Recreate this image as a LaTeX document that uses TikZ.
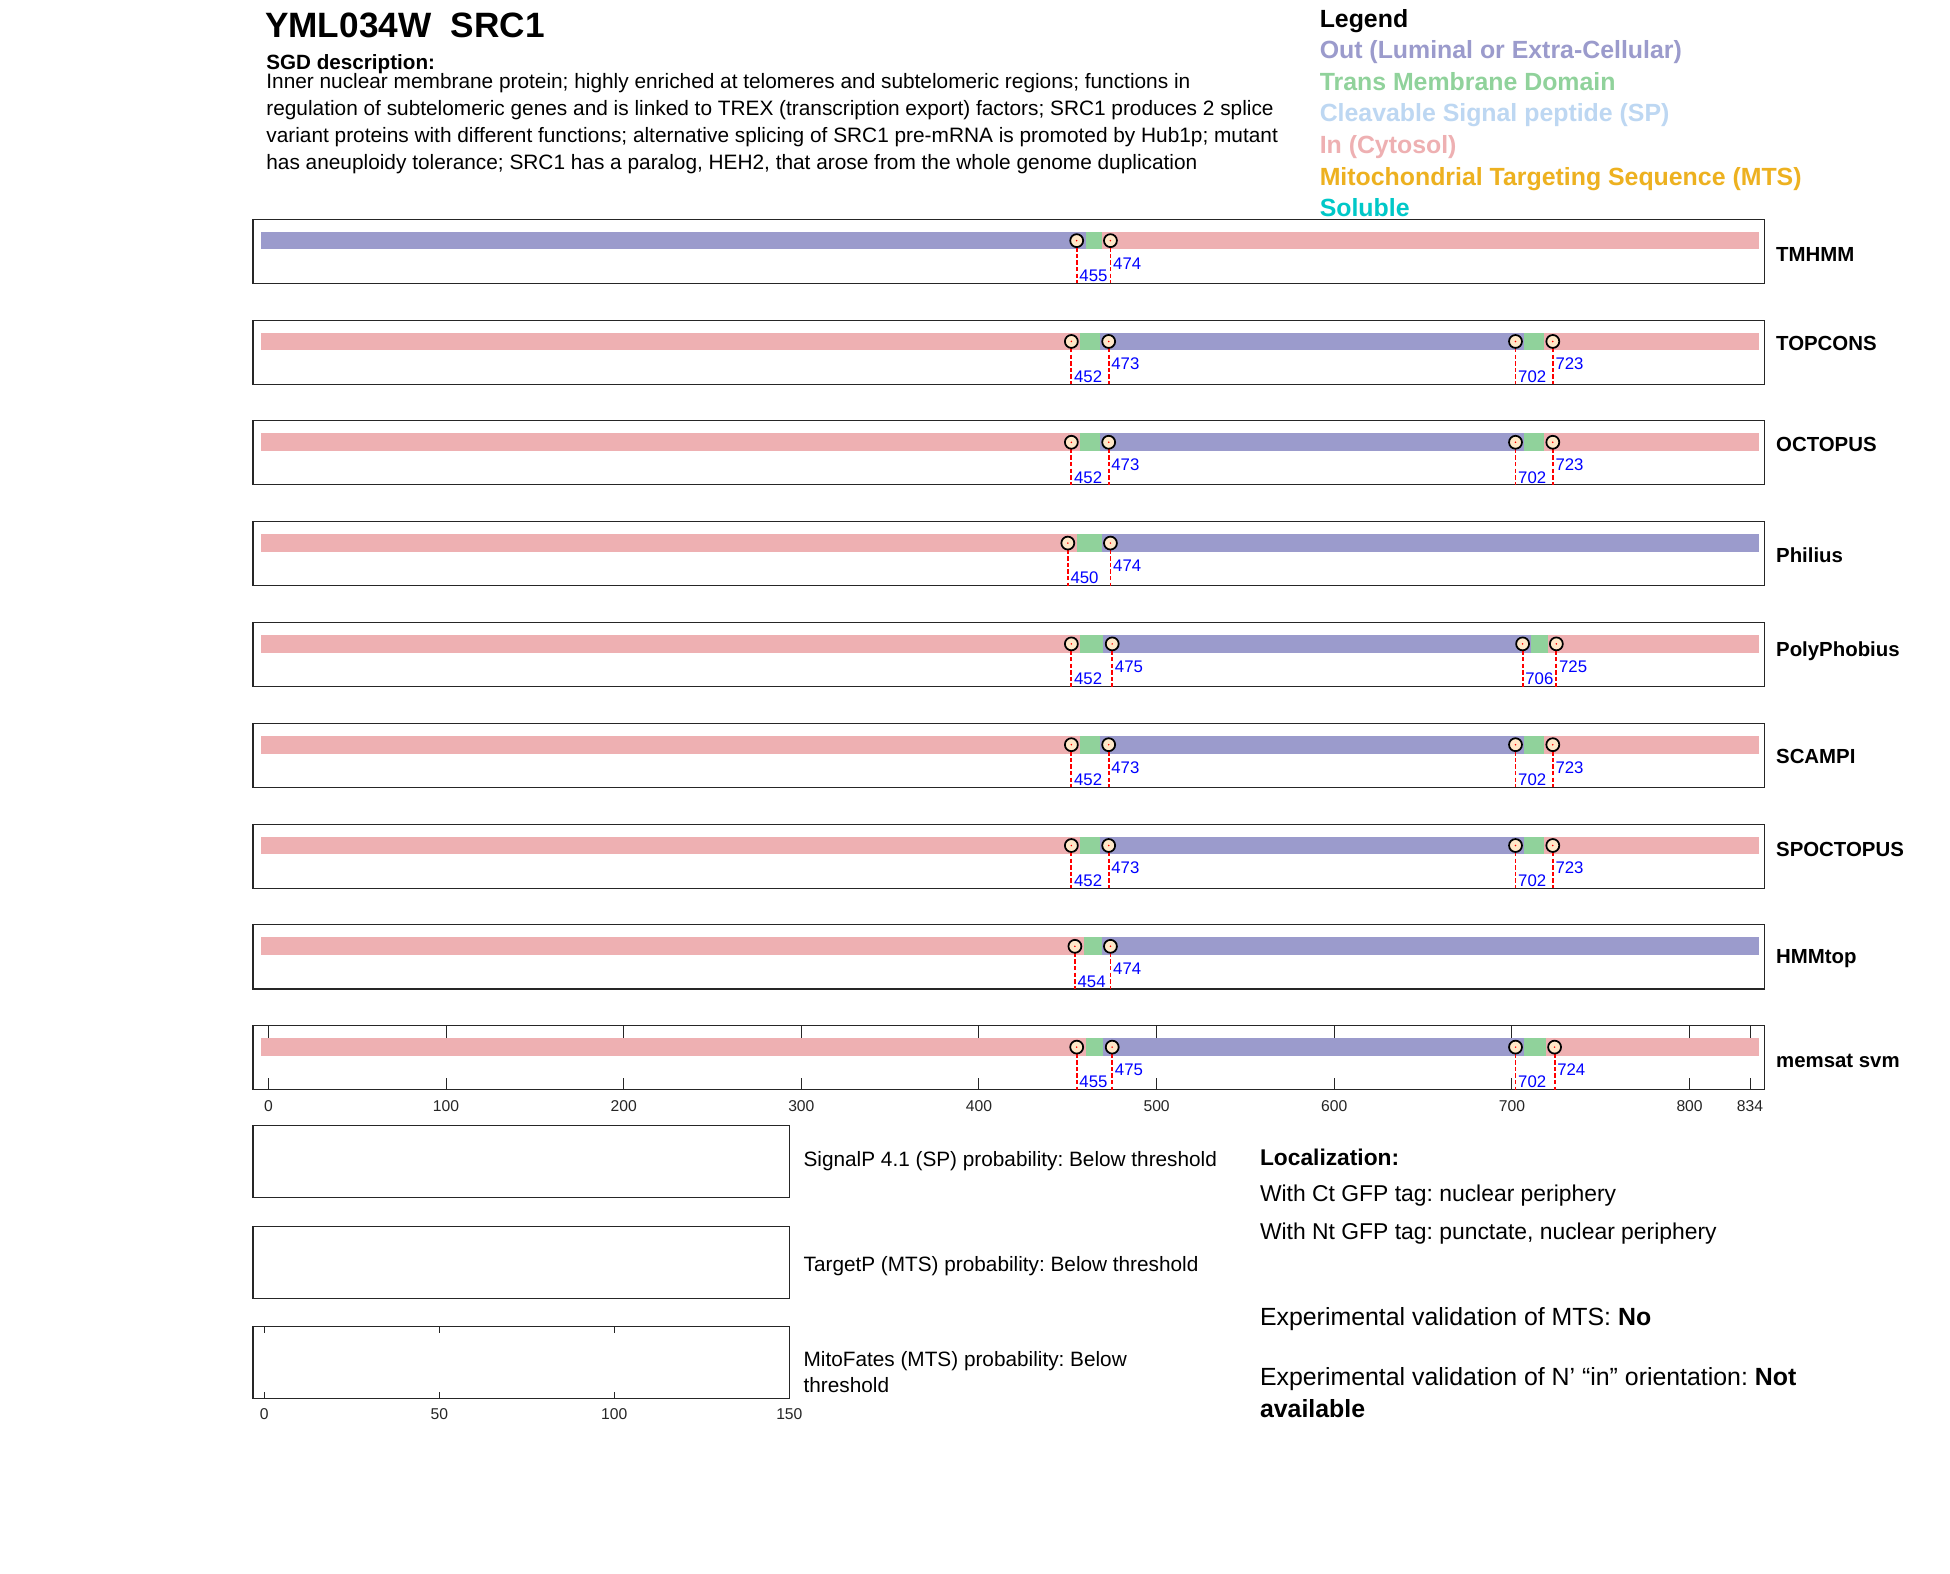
\documentclass[tikz,border=0pt]{standalone}
\usepackage{fontspec}
\setmainfont{Liberation Sans}
\definecolor{outc}{RGB}{155,155,204}
\definecolor{tmc}{RGB}{144,210,155}
\definecolor{spc}{RGB}{189,215,242}
\definecolor{inc}{RGB}{238,176,178}
\definecolor{mtsc}{RGB}{237,177,32}
\definecolor{solc}{RGB}{0,200,200}
\definecolor{creamc}{RGB}{255,232,200}
\definecolor{framec}{RGB}{38,38,38}
\tikzset{
  boxline/.style={draw=framec, line width=0.9bp},
  tickline/.style={draw=framec, line width=0.8bp},
  redash/.style={draw=red, line width=1.5bp, dash pattern=on 3.5bp off 1.8bp},
  circ/.style={draw=black, line width=1.4bp, fill=creamc},
  numlab/.style={text=blue, anchor=base west, inner sep=0pt, font=\fontsize{13.5bp}{15bp}\selectfont},
  trkname/.style={anchor=base west, inner sep=0pt, font=\bfseries\fontsize{16.4bp}{18bp}\selectfont},
  ticklab/.style={anchor=base, inner sep=0pt, text=framec, font=\fontsize{12.6bp}{14bp}\selectfont},
  txt/.style={anchor=base west, inner sep=0pt},
  legtxt/.style={anchor=base west, inner sep=0pt, font=\bfseries\fontsize{20bp}{24bp}\selectfont},
}
% #1 top y, #2 from, #3 to, #4 colour
\newcommand\sg[4]{\fill[#4] ({215.8+#2*1.4285-7.1},#1+10.1) rectangle ({215.8+#3*1.4285+7.1},#1+24.3);}
% #1 top y, #2 from, #3 to
\newcommand\tmseg[3]{\fill[tmc] ({215.8+#2*1.4285},#1+10.1) rectangle ({215.8+#3*1.4285},#1+24.3);}
% #1 top y, #2 position, #3 label raise, #4 node name
\newcommand\mk[4]{%
  \pgfmathsetmacro\mx{215.8+#2*1.4285}
  \draw[redash] (\mx,#1+17.2) -- (\mx,#1+51.5);
  \draw[circ] (\mx,#1+17.2) circle[radius=5.2bp];
  \fill[red] (\mx,#1+17.2) circle[radius=0.7bp];
  \node[numlab] (#4) at (\mx+2,#1+51.5-#3) {#2};
}
% #1 top y, #2 name, #3 node name, #4 label centre y
\newcommand\trk[4]{%
  \draw[boxline] (203.4,#1) rectangle (1418.5,#1+51.5);
  \node[trkname] (#3) at (1428,#4+6) {#2};
}
\begin{document}
\frenchspacing
\begin{tikzpicture}[x=1bp,y=-1bp]
\useasboundingbox (0,0) rectangle (1568,1265);
\fill[white] (0,0) rectangle (1568,1265);

% header
\node[txt, font=\bfseries\fontsize{28.3bp}{32bp}\selectfont] (title) at (213,30.5) {YML034W\ \ SRC1};
\node[txt, font=\bfseries\fontsize{16.6bp}{19bp}\selectfont] (sgd) at (214,56) {SGD description:};
\begin{scope}[every node/.style={txt, font=\fontsize{16.75bp}{19bp}\selectfont}]
\node (d1) at (214,71.5) {Inner nuclear membrane protein; highly enriched at telomeres and subtelomeric regions; functions in};
\node (d2) at (214,93.2) {regulation of subtelomeric genes and is linked to TREX (transcription export) factors; SRC1 produces 2 splice};
\node (d3) at (214,114.9) {variant proteins with different functions; alternative splicing of SRC1 pre-mRNA is promoted by Hub1p; mutant};
\node (d4) at (214,136.6) {has aneuploidy tolerance; SRC1 has a paralog, HEH2, that arose from the whole genome duplication};
\end{scope}

% legend
\node[legtxt] (lg0) at (1061,22) {Legend};
\node[legtxt, text=outc] (lg1) at (1061,47) {Out (Luminal or Extra-Cellular)};
\node[legtxt, text=tmc] (lg2) at (1061,72.5) {Trans Membrane Domain};
\node[legtxt, text=spc] (lg3) at (1061,98) {Cleavable Signal peptide (SP)};
\node[legtxt, text=inc] (lg4) at (1061,123.5) {In (Cytosol)};
\node[legtxt, text=mtsc] (lg5) at (1061,149) {Mitochondrial Targeting Sequence (MTS)};
\node[legtxt, text=solc] (lg6) at (1061,174) {Soluble};

% 1 TMHMM
\def\T{176.3}
\trk{\T}{TMHMM}{n1}{204}
\tmseg{\T}{455}{474}
\sg{\T}{1}{455}{outc}\sg{\T}{474}{834}{inc}
\mk{\T}{455}{1.5}{a1}\mk{\T}{474}{11.5}{a2}

% 2 TOPCONS
\def\T{257.36}
\trk{\T}{TOPCONS}{n2}{276}
\tmseg{\T}{452}{473}\tmseg{\T}{702}{723}
\sg{\T}{1}{452}{inc}\sg{\T}{473}{702}{outc}\sg{\T}{723}{834}{inc}
\mk{\T}{452}{1.5}{b1}\mk{\T}{473}{11.5}{b2}\mk{\T}{702}{1.5}{b3}\mk{\T}{723}{11.5}{b4}

% 3 OCTOPUS
\def\T{338.42}
\trk{\T}{OCTOPUS}{n3}{357}
\tmseg{\T}{452}{473}\tmseg{\T}{702}{723}
\sg{\T}{1}{452}{inc}\sg{\T}{473}{702}{outc}\sg{\T}{723}{834}{inc}
\mk{\T}{452}{1.5}{c1}\mk{\T}{473}{11.5}{c2}\mk{\T}{702}{1.5}{c3}\mk{\T}{723}{11.5}{c4}

% 4 Philius
\def\T{419.48}
\trk{\T}{Philius}{n4}{446}
\tmseg{\T}{450}{474}
\sg{\T}{1}{450}{inc}\sg{\T}{474}{834}{outc}
\mk{\T}{450}{1.5}{d1m}\mk{\T}{474}{11.5}{d2m}

% 5 PolyPhobius
\def\T{500.54}
\trk{\T}{PolyPhobius}{n5}{522}
\tmseg{\T}{452}{475}\tmseg{\T}{706}{725}
\sg{\T}{1}{452}{inc}\sg{\T}{475}{706}{outc}\sg{\T}{725}{834}{inc}
\mk{\T}{452}{1.5}{e1}\mk{\T}{475}{11.5}{e2}\mk{\T}{706}{1.5}{e3}\mk{\T}{725}{11.5}{e4}

% 6 SCAMPI
\def\T{581.6}
\trk{\T}{SCAMPI}{n6}{608}
\tmseg{\T}{452}{473}\tmseg{\T}{702}{723}
\sg{\T}{1}{452}{inc}\sg{\T}{473}{702}{outc}\sg{\T}{723}{834}{inc}
\mk{\T}{452}{1.5}{f1}\mk{\T}{473}{11.5}{f2}\mk{\T}{702}{1.5}{f3}\mk{\T}{723}{11.5}{f4}

% 7 SPOCTOPUS
\def\T{662.66}
\trk{\T}{SPOCTOPUS}{n7}{683}
\tmseg{\T}{452}{473}\tmseg{\T}{702}{723}
\sg{\T}{1}{452}{inc}\sg{\T}{473}{702}{outc}\sg{\T}{723}{834}{inc}
\mk{\T}{452}{1.5}{g1}\mk{\T}{473}{11.5}{g2}\mk{\T}{702}{1.5}{g3}\mk{\T}{723}{11.5}{g4}

% 8 HMMtop
\def\T{743.72}
\trk{\T}{HMMtop}{n8}{769}
\tmseg{\T}{454}{474}
\sg{\T}{1}{454}{inc}\sg{\T}{474}{834}{outc}
\mk{\T}{454}{1.5}{h1}\mk{\T}{474}{11.5}{h2}

% 9 memsat svm
\def\T{824.78}
\foreach \p in {0,100,200,300,400,500,600,700,800,834}{
  \pgfmathsetmacro\tx{215.8+\p*1.4285}
  \draw[tickline] (\tx,\T) -- (\tx,\T+9.6);
  \draw[tickline] (\tx,\T+51.5) -- (\tx,\T+41.9);
  \node[ticklab] (t\p) at (\tx,894) {\p};
}
\trk{\T}{memsat svm}{n9}{852}
\tmseg{\T}{455}{475}\tmseg{\T}{702}{724}
\sg{\T}{1}{455}{inc}\sg{\T}{475}{702}{outc}\sg{\T}{724}{834}{inc}
\mk{\T}{455}{1.5}{i1}\mk{\T}{475}{11.5}{i2}\mk{\T}{702}{1.5}{i3}\mk{\T}{724}{11.5}{i4}

% bottom boxes
\draw[boxline] (203.4,905.2) rectangle (634.6,963.2);
\draw[boxline] (203.4,985.9) rectangle (634.6,1043.9);
\draw[boxline] (203.4,1066.5) rectangle (634.6,1124.5);
\foreach \p in {0,50,100,150}{
  \pgfmathsetmacro\tx{212.5+\p*2.8147}
  \draw[tickline] (\tx,1066.5) -- (\tx,1071.7);
  \draw[tickline] (\tx,1124.5) -- (\tx,1119.3);
  \node[ticklab] (u\p) at (\tx,1141.5) {\p};
}
\begin{scope}[every node/.style={txt, font=\fontsize{16.7bp}{20bp}\selectfont}]
\node (sp) at (646,938) {SignalP 4.1 (SP) probability: Below threshold};
\node (tp) at (646,1022) {TargetP (MTS) probability: Below threshold};
\node (mf1) at (646,1099) {MitoFates (MTS) probability: Below};
\node (mf2) at (646,1120) {threshold};
\end{scope}

% localization
\node[txt, font=\bfseries\fontsize{18.3bp}{22bp}\selectfont] (loc) at (1013,937.5) {Localization:};
\node[txt, font=\fontsize{18.4bp}{22bp}\selectfont] (ct) at (1013,966.5) {With Ct GFP tag: nuclear periphery};
\node[txt, font=\fontsize{18.4bp}{22bp}\selectfont] (nt) at (1013,996.5) {With Nt GFP tag: punctate, nuclear periphery};
\node[txt, font=\fontsize{20bp}{24bp}\selectfont] (ev1) at (1013,1066) {Experimental validation of MTS: \textbf{No}};
\node[txt, font=\fontsize{20bp}{24bp}\selectfont] (ev2) at (1013,1114) {Experimental validation of N’ “in” orientation: \textbf{Not}};
\node[txt, font=\bfseries\fontsize{20bp}{24bp}\selectfont] (ev3) at (1013,1140) {available};
\end{tikzpicture}
\end{document}
